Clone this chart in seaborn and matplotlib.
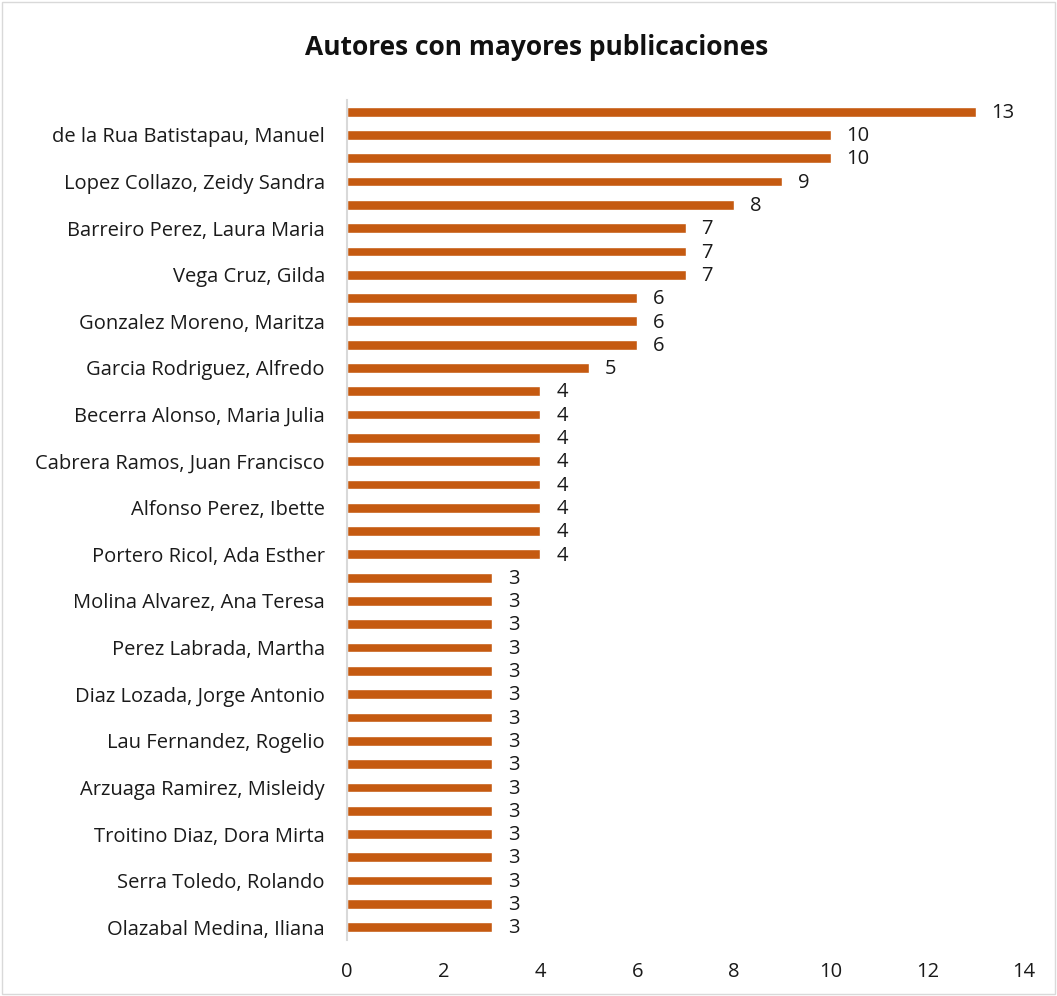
import pandas as pd
import seaborn as sns
import matplotlib.pyplot as plt
from matplotlib.patches import Rectangle

# publicaciones por autor, de arriba hacia abajo
publicaciones = [13, 10, 10, 9, 8, 7, 7, 7, 6, 6, 6, 5,
                 4, 4, 4, 4, 4, 4, 4, 4,
                 3, 3, 3, 3, 3, 3, 3, 3, 3, 3, 3, 3, 3, 3, 3, 3]

# solo una de cada dos etiquetas aparece en el grafico original
etiquetas = ["", "de la Rua Batistapau, Manuel",
             "", "Lopez Collazo, Zeidy Sandra",
             "", "Barreiro Perez, Laura Maria",
             "", "Vega Cruz, Gilda",
             "", "Gonzalez Moreno, Maritza",
             "", "Garcia Rodriguez, Alfredo",
             "", "Becerra Alonso, Maria Julia",
             "", "Cabrera Ramos, Juan Francisco",
             "", "Alfonso Perez, Ibette",
             "", "Portero Ricol, Ada Esther",
             "", "Molina Alvarez, Ana Teresa",
             "", "Perez Labrada, Martha",
             "", "Diaz Lozada, Jorge Antonio",
             "", "Lau Fernandez, Rogelio",
             "", "Arzuaga Ramirez, Misleidy",
             "", "Troitino Diaz, Dora Mirta",
             "", "Serra Toledo, Rolando",
             "", "Olazabal Medina, Iliana"]

df = pd.DataFrame({"autor": [f"a{i}" for i in range(len(publicaciones))],
                   "pubs": publicaciones})

sns.set_style("white")
plt.rcParams["font.family"] = ["Open Sans", "DejaVu Sans"]

fig = plt.figure(figsize=(10.57, 9.96), dpi=100)
ax = fig.add_axes([0.3283, 0.0562, 0.6405, 0.8434])

sns.barplot(data=df, x="pubs", y="autor", orient="h", color="#C55A11",
            saturation=1, width=0.42, ax=ax)

for i, v in enumerate(publicaciones):
    ax.text(v + 0.33, i + 0.05, str(v), va="center", ha="left", fontsize=14.5, color="#1a1a1a")

ax.set_xlim(0, 14)
ax.set_xticks(range(0, 15, 2))
ax.set_ylim(len(publicaciones) - 0.45, -0.5)
ax.set_yticks(range(len(publicaciones)))
ax.set_yticklabels(etiquetas)
ax.tick_params(axis="both", length=0, labelsize=14.5, colors="#1a1a1a")
ax.tick_params(axis="y", pad=16)
ax.tick_params(axis="x", pad=16)
ax.set_xlabel("")
ax.set_ylabel("")
for s in ["top", "right", "bottom"]:
    ax.spines[s].set_visible(False)
ax.spines["left"].set_color("#D9D9D9")
ax.spines["left"].set_linewidth(1.5)

fig.text(0.508, 0.952, "Autores con mayores publicaciones", ha="center", va="center",
         fontsize=19, fontweight="bold", color="#111111")

fig.patches.append(Rectangle((0.002, 0.002), 0.996, 0.996, transform=fig.transFigure,
                             fill=False, edgecolor="#D9D9D9", linewidth=1))

fig.savefig("out.png", dpi=100)
